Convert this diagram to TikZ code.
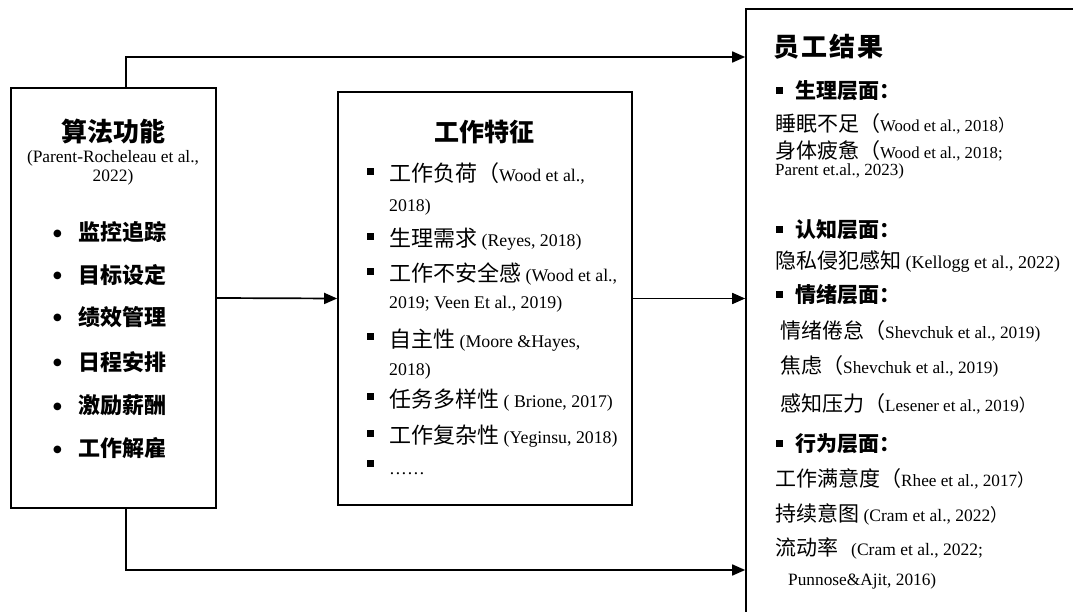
\documentclass[tikz,border=0pt]{standalone}
\usepackage{fontspec}
\setmainfont{Liberation Serif}
\newfontfamily\cjk{Noto Sans CJK SC}
\newfontfamily\dv{DejaVu Sans}
\usetikzlibrary{arrows.meta}
\newcommand\zh[1]{{\cjk #1}}
\newcommand\zhb[1]{{\cjk\bfseries #1}}
\newcommand\fs[1]{\fontsize{#1}{#1}\selectfont}
\newcommand\msq{\raisebox{7pt}{\rule{7pt}{7pt}}\hspace{15pt}}
\newcommand\rsq{\raisebox{4.5pt}{\rule{7pt}{7pt}}\hspace{12pt}}
\newcommand\ldot{\makebox[25pt][l]{\raisebox{4.5pt}{\fs{10}\dv ●}}}
\tikzset{
  box/.style={draw, rectangle, line width=1.7pt, inner sep=0pt},
  conn/.style={line width=1.7pt},
  arr/.style={conn, -{Triangle[length=13pt,width=11pt]}},
  txt/.style={anchor=base west, inner sep=0pt},
  ctxt/.style={anchor=base, inner sep=0pt},
}
\begin{document}
\begin{tikzpicture}[x=1pt,y=-1pt]
\useasboundingbox (0,0) rectangle (1073,612);
\clip (0,0) rectangle (1073,612);
% boxes
\node[box, minimum width=205pt, minimum height=420pt] (L) at (113.5,298) {};
\node[box, minimum width=294pt, minimum height=413pt] (M) at (485,298.5) {};
\node[box, minimum width=360pt, minimum height=640pt] (R) at (926,329) {};
% junction coordinates
\coordinate (tj) at (126,57);
\coordinate (bj) at (126,570);
% connectors
\draw[arr] (L.north -| tj) -- (tj) -- (tj -| R.west);
\draw[arr] (L.south -| bj) -- (bj) -- (bj -| R.west);
\draw[arr] (L.east) -- (M.west);
\draw[arr] (M.east) -- (M.east -| R.west);
% left box
\node[ctxt, font=\fs{26}] (lt) at (113,142) {\zhb{算法功能}};
\node[ctxt, font=\fs{17.4}] (lc1) at (113,162.7) {(Parent-Rocheleau et al.,};
\node[ctxt, font=\fs{17.4}] (lc2) at (113,181.7) {2022)};
\node[txt, font=\fs{22}] (l1) at (53,241) {\ldot\zhb{监控追踪}};
\node[txt, font=\fs{22}] (l2) at (53,283.5) {\ldot\zhb{目标设定}};
\node[txt, font=\fs{22}] (l3) at (53,325) {\ldot\zhb{绩效管理}};
\node[txt, font=\fs{22}] (l4) at (53,370) {\ldot\zhb{日程安排}};
\node[txt, font=\fs{22}] (l5) at (53,413.5) {\ldot\zhb{激励薪酬}};
\node[txt, font=\fs{22}] (l6) at (53,456.5) {\ldot\zhb{工作解雇}};
% middle box
\node[ctxt, font=\fs{25}] (mt) at (484,142) {\zhb{工作特征}};
\node[txt, font=\fs{17.8}] (m1) at (367,182) {\msq{\fs{22}\zh{工作负荷（}}Wood et al.,};
\node[txt, font=\fs{17.8}] (m1b) at (389,211.5) {2018)};
\node[txt, font=\fs{17.8}] (m2) at (367,247) {\msq{\fs{22}\zh{生理需求}} (Reyes, 2018)};
\node[txt, font=\fs{17.8}] (m3) at (367,282) {\msq{\fs{22}\zh{工作不安全感}} (Wood et al.,};
\node[txt, font=\fs{17.8}] (m3b) at (389,308) {2019; Veen Et al., 2019)};
\node[txt, font=\fs{17.8}] (m4) at (367,347) {\msq{\fs{22}\zh{自主性}} (Moore \&Hayes,};
\node[txt, font=\fs{17.8}] (m4b) at (389,375) {2018)};
\node[txt, font=\fs{17.8}] (m5) at (367,407) {\msq{\fs{22}\zh{任务多样性}} ( Brione, 2017)};
\node[txt, font=\fs{17.8}] (m6) at (367,443.5) {\msq{\fs{22}\zh{工作复杂性}} (Yeginsu, 2018)};
\node[txt, font=\fs{17.8}] (m7) at (367,474) {\msq……};
% right box
\node[txt, font=\fs{26}] (rt) at (773,56.5) {\zhb{\addfontfeature{LetterSpace=8}员工结果}};
\node[txt, font=\fs{21}] (r1) at (776,99) {\rsq\zhb{生理层面：}};
\node[txt, font=\fs{16.7}] (r1a) at (775,132) {{\fs{21}\zh{睡眠不足（}}Wood et al., 2018\zh{）}};
\node[txt, font=\fs{16.7}] (r1b) at (775,159) {{\fs{21}\zh{身体疲惫（}}Wood et al., 2018;};
\node[txt, font=\fs{17}] (r1c) at (775,175.5) {Parent et.al., 2023)};
\node[txt, font=\fs{21}] (r2) at (776,238) {\rsq\zhb{认知层面：}};
\node[txt, font=\fs{18}] (r2a) at (775,269) {{\fs{21}\zh{隐私侵犯感知}} (Kellogg et al., 2022)};
\node[txt, font=\fs{21}] (r3) at (776,302) {\rsq\zhb{情绪层面：}};
\node[txt, font=\fs{17.3}] (r3a) at (780,338.5) {{\fs{21}\zh{情绪倦怠（}}Shevchuk et al., 2019)};
\node[txt, font=\fs{17.3}] (r3b) at (780,373.5) {{\fs{21}\zh{焦虑（}}Shevchuk et al., 2019)};
\node[txt, font=\fs{17}] (r3c) at (780,411) {{\fs{21}\zh{感知压力（}}Lesener et al., 2019\zh{）}};
\node[txt, font=\fs{21}] (r4) at (776,451.5) {\rsq\zhb{行为层面：}};
\node[txt, font=\fs{17.2}] (r4a) at (775,486.5) {{\fs{21}\zh{工作满意度（}}Rhee et al., 2017\zh{）}};
\node[txt, font=\fs{17.5}] (r4b) at (775,521.5) {{\fs{21}\zh{持续意图}} (Cram et al., 2022\zh{）}};
\node[txt, font=\fs{17.5}] (r4c) at (775,555) {{\fs{21}\zh{流动率}}\hspace{13pt}(Cram et al., 2022;};
\node[txt, font=\fs{17.3}] (r4d) at (788,585) {Punnose\&Ajit, 2016)};
\end{tikzpicture}
\end{document}
